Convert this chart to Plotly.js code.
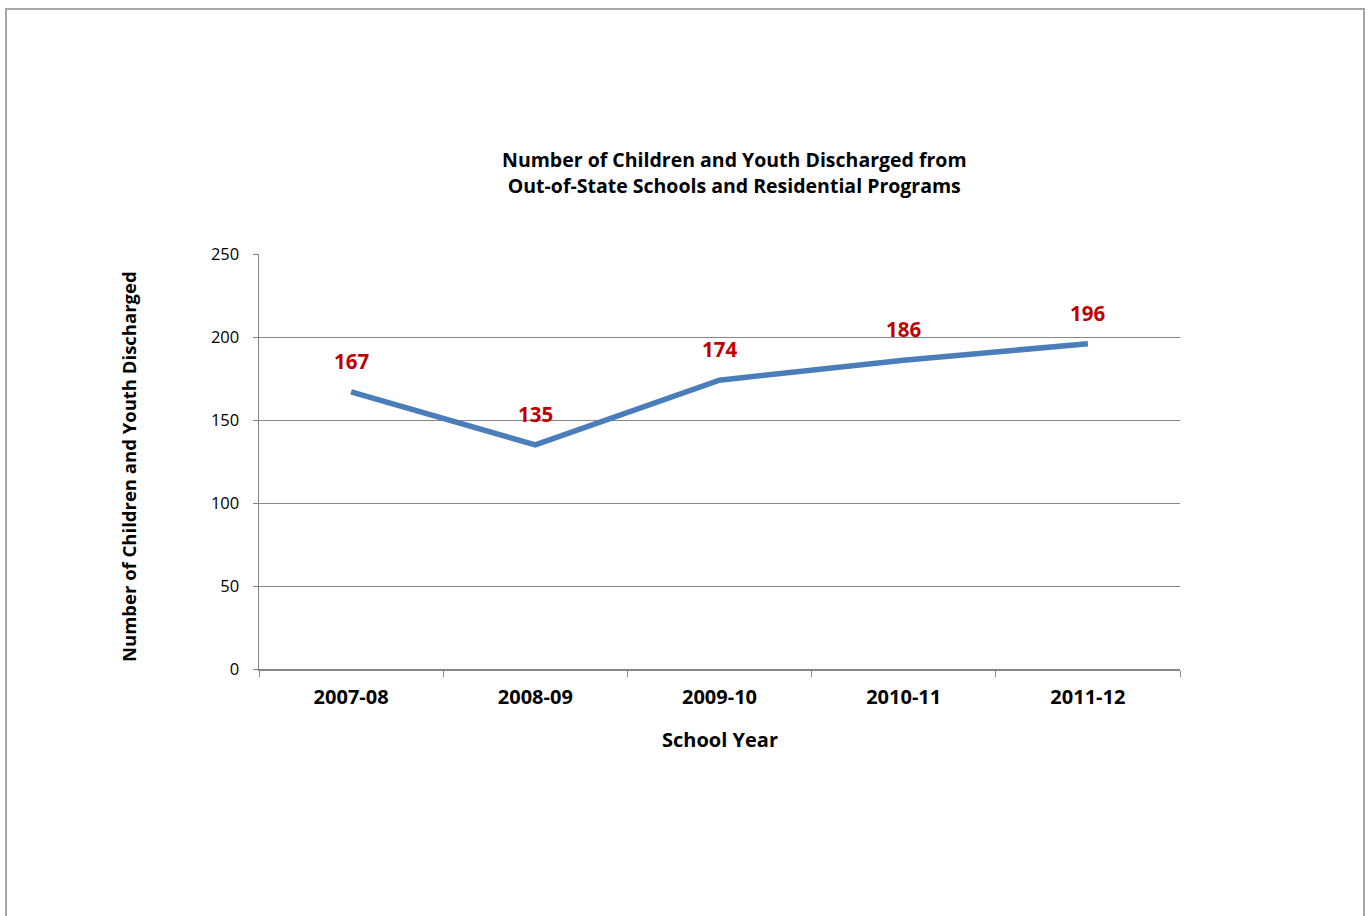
<!DOCTYPE html>
<html>
<head>
<meta charset="utf-8">
<script src="https://cdn.plot.ly/plotly-3.0.1.min.js"></script>
<style>
html,body{margin:0;padding:0;background:#fff;overflow:hidden;}
#frame{position:absolute;left:5px;top:8px;width:1360px;height:920px;border:2px solid #a6a6a6;box-sizing:border-box;pointer-events:none;z-index:5;}
#chart{position:absolute;left:0;top:0;width:1370px;height:916px;}
</style>
</head>
<body>
<div id="chart"></div>
<div id="frame"></div>
<script>
const years = ["2007-08", "2008-09", "2009-10", "2010-11", "2011-12"];
const discharged = [167, 135, 174, 186, 196];
const yTicks = [0, 50, 100, 150, 200, 250];

const font = "'Open Sans', Lato, 'Liberation Sans', sans-serif";

const trace = {
  x: years,
  y: discharged,
  type: "scatter",
  mode: "lines",
  line: {color: "#4A7EBB", width: 5.5},
  hoverinfo: "skip"
};

const labels = years.map((yr, i) => ({
  x: yr, y: discharged[i], xref: "x", yref: "y",
  text: "<b>" + discharged[i] + "</b>",
  showarrow: false, yshift: 31,
  font: {family: font, size: 20.5, color: "#C00000"}
}));

const layout = {
  width: 1370, height: 916,
  margin: {l: 259, r: 190, t: 254, b: 247},
  paper_bgcolor: "#fff", plot_bgcolor: "#fff",
  showlegend: false,
  title: {
    text: "<b>Number of Children and Youth Discharged from<br>Out-of-State Schools and Residential Programs</b>",
    font: {family: font, size: 19.5, color: "#000"},
    x: 0.536, xanchor: "center", xref: "container",
    y: 0.8175, yanchor: "middle", yref: "container"
  },
  xaxis: {
    type: "category",
    range: [-0.5, 4.5],
    tickson: "boundaries",
    ticks: "outside", ticklen: 6, tickcolor: "#868686", tickwidth: 1,
    showline: true, linecolor: "#868686", linewidth: 1.5,
    showgrid: false, zeroline: false,
    ticklabelstandoff: 9,
    tickfont: {family: font, size: 20, color: "#000", weight: "bold"},
    fixedrange: true
  },
  yaxis: {
    range: [0, 250],
    tickvals: yTicks,
    ticks: "outside", ticklen: 5, tickcolor: "#868686",
    showline: true, linecolor: "#868686", linewidth: 1.5,
    showgrid: true, gridcolor: "#868686", gridwidth: 1,
    zeroline: false,
    ticklabelstandoff: 10,
    tickfont: {family: font, size: 16.5, color: "#000"},
    fixedrange: true
  },
  annotations: labels.concat([
    {text: "<b>Number of Children and Youth Discharged</b>", xref: "paper", yref: "paper",
     x: -0.1422, y: 0.4867, xanchor: "center", yanchor: "middle", textangle: -90, showarrow: false,
     font: {family: font, size: 18.5, color: "#000"}},
    {text: "<b>School Year</b>", xref: "paper", yref: "paper",
     x: 0.5, y: -0.171, xanchor: "center", yanchor: "middle", showarrow: false,
     font: {family: font, size: 20, color: "#000"}}
  ])
};

Plotly.newPlot("chart", [trace], layout, {displayModeBar: false, staticPlot: true});
</script>
</body>
</html>
